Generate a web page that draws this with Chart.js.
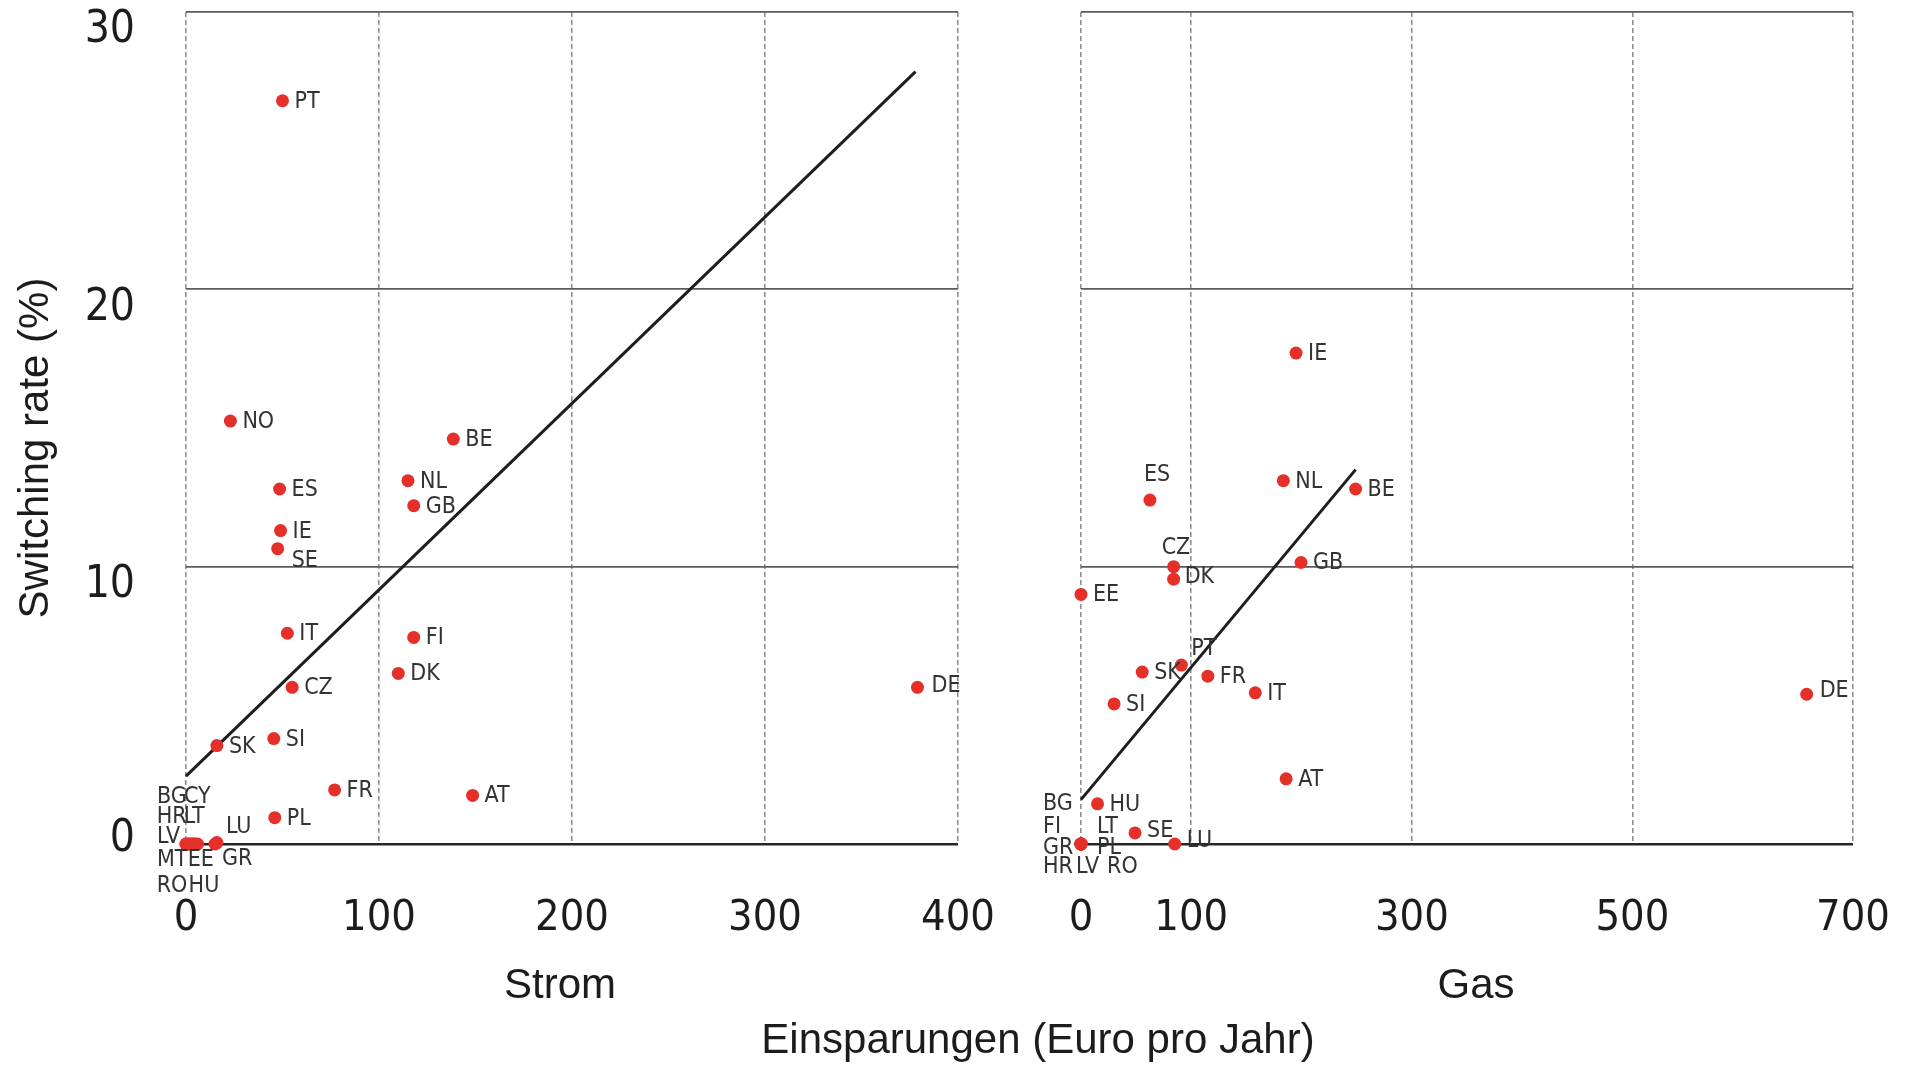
<!DOCTYPE html>
<html><head><meta charset="utf-8">
<script src="https://cdn.jsdelivr.net/npm/chart.js@4.4.1/dist/chart.umd.min.js"></script>
<style>
html,body{margin:0;padding:0;background:#fff;overflow:hidden}
#wrap{position:relative;width:1908px;height:1069px;background:#fff}
canvas{position:absolute;left:0;top:0}
</style></head><body>
<div id="wrap"><canvas id="c1" width="1908" height="1069"></canvas><canvas id="c2" width="1908" height="1069"></canvas></div>
<script>
// ---------- DATA ----------
const stromCountries = ['PT','NO','BE','NL','ES','GB','IE','SE','IT','FI','DK','DE','CZ','SI','SK','FR','AT','PL','LU','GR','BG','CY','HR','LT','LV','MT','EE','RO','HU'];
const stromSavings   = [50, 23, 138.5, 115, 48.5, 118, 49, 47.5, 52.5, 118, 110, 379, 55, 45.5, 16, 77, 148.5, 46, 16, 15, 0, 1.5, 3, 4.5, 0, 1.5, 3, 4.5, 6];
const stromSwitching = [26.8, 15.25, 14.6, 13.1, 12.8, 12.2, 11.3, 10.65, 7.6, 7.45, 6.15, 5.65, 5.65, 3.8, 3.55, 1.95, 1.75, 0.95, 0.05, 0, 0, 0, 0, 0, 0, 0, 0, 0, 0];

const gasCountries = ['IE','NL','BE','ES','GB','CZ','DK','EE','PT','SK','FR','IT','DE','SI','AT','HU','SE','LU','BG','FI','LT','GR','PL','HR','LV','RO'];
const gasSavings   = [195, 183.5, 249, 62.5, 199.5, 84, 84, 0, 91, 55.5, 115, 158, 658, 30, 186, 15, 49, 85, 0, 0, 0, 0, 0, 0, 0, 0];
const gasSwitching = [17.7, 13.1, 12.8, 12.4, 10.15, 10.0, 9.55, 9.0, 6.45, 6.2, 6.05, 5.45, 5.4, 5.05, 2.35, 1.45, 0.4, 0, 0, 0, 0, 0, 0, 0, 0, 0];

const stromFitX = [0, 378];
const stromFitY = [2.45, 27.85];
const gasFitX = [0, 249];
const gasFitY = [1.6, 13.5];

const stromTicks = [0, 100, 200, 300, 400];
const gasTicks = [0, 100, 300, 500, 700];
const yTicks = [0, 10, 20, 30];
const panelTitles = ['Strom', 'Gas'];
const yTitle = 'Switching rate (%)';
const xTitle = 'Einsparungen (Euro pro Jahr)';

// ---------- STYLE ----------
const NARROW = '"Liberation Sans Narrow", "Arial Narrow", "DejaVu Sans Condensed", sans-serif';
const REG = '"Liberation Sans", Arial, sans-serif';
const RED = '#e5302a';
const TXT = '#1c1c1c';
const LBL = '#333333';

const stromLabelOffsets = {
  SE: [14, 12], DE: [14, -1], LU: [9, -16], GR: [7, 15],
  BG: [-29, -47], CY: [-5, -47], HR: [-35, -27], LT: [-11, -27], LV: [-29, -7],
  MT: [-32, 16], EE: [-4, 16], RO: [-38, 42], HU: [-9, 42]
};
const gasLabelOffsets = {
  ES: [-6, -25], CZ: [-12, -19], DK: [11, -2], PT: [10, -16], DE: [13, -3], LU: [12, -3], SE: [12, -2],
  BG: [-38, -40], FI: [-38, -17], LT: [16, -17], GR: [-38, 4], PL: [16, 4], HR: [-38, 23], LV: [-5, 23], RO: [26, 23]
};

function pts(names, xs, ys) { return names.map((n, i) => ({x: xs[i], y: ys[i], name: n})); }
function fit(xs, ys) { return xs.map((x, i) => ({x: x, y: ys[i]})); }

const labelPlugin = {
  id: 'ptLabels',
  afterDatasetsDraw(chart, args, opts) {
    const ctx = chart.ctx;
    const meta = chart.getDatasetMeta(0);
    const ds = chart.data.datasets[0];
    ctx.save();
    ctx.font = '23px ' + NARROW;
    ctx.fillStyle = LBL;
    ctx.textBaseline = 'middle';
    ctx.textAlign = 'left';
    meta.data.forEach((el, i) => {
      const name = ds.data[i].name;
      const off = opts.offsets[name] || [12, 1];
      ctx.fillText(name, el.x + off[0], el.y + off[1]);
    });
    ctx.restore();
  }
};

const textPlugin = {
  id: 'texts',
  afterDraw(chart, args, opts) {
    const ctx = chart.ctx;
    ctx.save();
    ctx.fillStyle = TXT;
    if (opts.yLabels) {
      const ys = chart.scales.y;
      ctx.font = '44px ' + NARROW;
      ctx.textAlign = 'right';
      ctx.textBaseline = 'middle';
      yTicks.forEach(v => {
        const dy = v === 0 ? -4 : 19;
        ctx.fillText(String(v), 135, ys.getPixelForValue(v) + dy);
      });
      ctx.save();
      ctx.font = '42px ' + REG;
      ctx.textAlign = 'center';
      ctx.translate(36, 448);
      ctx.rotate(-Math.PI / 2);
      ctx.fillText(yTitle, 0, 0);
      ctx.restore();
      ctx.font = '42px ' + REG;
      ctx.textAlign = 'center';
      ctx.textBaseline = 'middle';
      ctx.fillText(xTitle, 1038, 1041);
    }
    ctx.font = '42px ' + REG;
    ctx.textAlign = 'center';
    ctx.textBaseline = 'middle';
    ctx.fillText(opts.panelTitle, opts.titleX, 986);
    ctx.restore();
  }
};

function makeChart(id, data, fitData, xMax, ticks, pad, yWidth, offsets, title, titleX, yLabels) {
  return new Chart(document.getElementById(id), {
    type: 'scatter',
    data: {
      datasets: [
        { data: data, backgroundColor: RED, borderWidth: 0, pointRadius: 6.5, pointHoverRadius: 6.5, clip: false },
        { type: 'line', data: fitData, borderColor: '#1e1e1e', borderWidth: 3, pointRadius: 0, fill: false, clip: false }
      ]
    },
    options: {
      responsive: false, animation: false, devicePixelRatio: 1,
      layout: { padding: pad },
      plugins: { legend: { display: false }, tooltip: { enabled: false },
        ptLabels: { offsets: offsets },
        texts: { panelTitle: title, titleX: titleX, yLabels: yLabels } },
      scales: {
        x: {
          type: 'linear', min: 0, max: xMax,
          afterBuildTicks: s => { s.ticks = ticks.map(v => ({value: v})); },
          afterFit: s => { s.height = 225; s.paddingLeft = 0; s.paddingRight = 0; },
          grid: { color: '#8f8f8f', lineWidth: 1.6, drawTicks: false },
          border: { display: false, dash: [5, 3] },
          ticks: { padding: 49, color: TXT, font: { family: NARROW, size: 43 }, maxRotation: 0, autoSkip: false }
        },
        y: {
          type: 'linear', min: 0, max: 30,
          afterBuildTicks: s => { s.ticks = yTicks.map(v => ({value: v})); },
          afterFit: s => { s.width = yWidth; s.paddingTop = 0; s.paddingBottom = 0; },
          grid: { drawTicks: false,
            color: c => (c.tick && c.tick.value === 0) ? '#262626' : '#5c5c5c',
            lineWidth: c => (c.tick && c.tick.value === 0) ? 2.5 : 1.8 },
          border: { display: false },
          ticks: { display: false }
        }
      }
    },
    plugins: [labelPlugin, textPlugin]
  });
}

makeChart('c1', pts(stromCountries, stromSavings, stromSwitching), fit(stromFitX, stromFitY),
  400, stromTicks, {left: 0, right: 950, top: 12, bottom: 0}, 186, stromLabelOffsets, panelTitles[0], 560, true);
makeChart('c2', pts(gasCountries, gasSavings, gasSwitching), fit(gasFitX, gasFitY),
  700, gasTicks, {left: 1081, right: 55, top: 12, bottom: 0}, 0, gasLabelOffsets, panelTitles[1], 1476, false);
</script>
</body></html>
